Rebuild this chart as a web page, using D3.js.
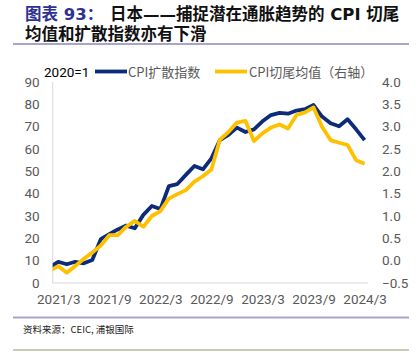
<!DOCTYPE html>
<html><head><meta charset="utf-8">
<script src="https://cdn.jsdelivr.net/npm/d3@7"></script>
<style>
body{margin:0;background:#fff;}
svg{display:block;}
</style></head>
<body>
<svg id="c" width="420" height="353"></svg>
<script>
const months = ["2021/2","2021/3","2021/4","2021/5","2021/6","2021/7","2021/8","2021/9","2021/10","2021/11","2021/12",
"2022/1","2022/2","2022/3","2022/4","2022/5","2022/6","2022/7","2022/8","2022/9","2022/10","2022/11","2022/12",
"2023/1","2023/2","2023/3","2023/4","2023/5","2023/6","2023/7","2023/8","2023/9","2023/10","2023/11","2023/12",
"2024/1","2024/2","2024/3"];
const diffusion = [7.1,9.5,8.4,9.5,8.8,10.3,19.6,21.9,24.0,25.7,24.5,30.5,34.5,33.1,43.4,44.3,48.4,52.4,50.9,55.8,
64.0,66.3,69.6,67.6,68.8,72.4,75.2,76.2,75.8,77.2,77.8,79.7,74.5,71.5,70.2,73.3,68.8,64.0];
const trimmedMean = [-0.23,-0.12,-0.27,-0.12,0.04,0.18,0.34,0.57,0.57,0.76,0.89,0.76,1.00,1.11,1.39,1.49,1.58,1.77,1.89,2.04,
2.71,2.88,3.09,3.13,2.68,2.85,2.98,3.05,2.96,3.26,3.32,3.43,3.00,2.70,2.64,2.59,2.25,2.17];
const xTickLabels = ["2021/3","2021/9","2022/3","2022/9","2023/3","2023/9","2024/3"];
const leftTicks = [0,10,20,30,40,50,60,70,80,90];
const rightTicks = [-0.5,0.0,0.5,1.0,1.5,2.0,2.5,3.0,3.5,4.0];

const svg = d3.select("#c");
const L = 52.7, R = 368, T = 82, B = 283;
const x = d3.scaleLinear().domain([0.35, 37.4]).range([L, R]);
const yL = d3.scaleLinear().domain([0, 90]).range([B, T]);
const yR = d3.scaleLinear().domain([-0.5, 4.0]).range([B, T]);
const CJK = "'Noto Sans CJK SC', sans-serif";
const TITLE = "'DejaVu Sans', 'Noto Sans CJK SC', sans-serif";
const NUM = "Roboto, 'Noto Sans', sans-serif";

// Title
const title = svg.append("text").attr("font-family", TITLE).attr("font-weight", "bold").attr("font-size", 16.5);
title.append("tspan").attr("x", 25).attr("y", 19.5).attr("fill", "#2E3192").text("图表 93：");
title.append("tspan").attr("x", 110).attr("y", 19.5).attr("fill", "#111").text("日本——捕捉潜在通胀趋势的 CPI 切尾");
title.append("tspan").attr("x", 25).attr("y", 39.5).attr("fill", "#111").text("均值和扩散指数亦有下滑");
svg.append("line").attr("x1", 13).attr("x2", 409).attr("y1", 44).attr("y2", 44)
  .attr("stroke", "#A8A4CC").attr("stroke-width", 2);

// Axes lines
svg.append("line").attr("x1", L).attr("x2", L).attr("y1", T).attr("y2", B)
  .attr("stroke", "#D9D9D9").attr("stroke-width", 1);
svg.append("line").attr("x1", L).attr("x2", R).attr("y1", B).attr("y2", B)
  .attr("stroke", "#D9D9D9").attr("stroke-width", 1);

// Left axis
const gl = svg.append("g").attr("transform", `translate(${L},0)`)
  .call(d3.axisLeft(yL).tickValues(leftTicks).tickSize(0).tickPadding(13).tickFormat(d3.format("d")));
gl.select(".domain").remove();
gl.selectAll("text").attr("font-family", NUM).attr("font-size", 13.5).attr("fill", "#595959");

// Right axis
const gr = svg.append("g").attr("transform", `translate(${R},0)`)
  .call(d3.axisRight(yR).tickValues(rightTicks).tickSize(0).tickPadding(14).tickFormat(d3.format(".1f")));
gr.select(".domain").remove();
gr.selectAll("text").attr("font-family", NUM).attr("font-size", 13.5).attr("fill", "#595959");

// X axis
const xTickIdx = xTickLabels.map(l => months.indexOf(l));
const gx = svg.append("g").attr("transform", `translate(0,${B})`)
  .call(d3.axisBottom(x).tickValues(xTickIdx).tickSize(0).tickPadding(11).tickFormat(i => months[i]));
gx.select(".domain").remove();
gx.selectAll("text").attr("font-family", NUM).attr("font-size", 13.5).attr("fill", "#595959");

// Clip
svg.append("clipPath").attr("id", "clip").append("rect")
  .attr("x", L).attr("y", 0).attr("width", R - L + 4).attr("height", 353);

const lineL = d3.line().x((d, i) => x(i)).y(d => yL(d));
const lineR = d3.line().x((d, i) => x(i)).y(d => yR(d));
const gp = svg.append("g").attr("clip-path", "url(#clip)");
gp.append("path").datum(diffusion).attr("d", lineL).attr("fill", "none")
  .attr("stroke", "#0C2C7A").attr("stroke-width", 3.8).attr("stroke-linejoin", "round");
gp.append("path").datum(trimmedMean).attr("d", lineR).attr("fill", "none")
  .attr("stroke", "#FFC000").attr("stroke-width", 3.8).attr("stroke-linejoin", "round");

// Legend
svg.append("text").attr("x", 44).attr("y", 76.5).attr("font-family", NUM)
  .attr("font-size", 13.5).attr("fill", "#000").text("2020=1");
svg.append("line").attr("x1", 95).attr("x2", 127).attr("y1", 71.5).attr("y2", 71.5)
  .attr("stroke", "#0C2C7A").attr("stroke-width", 3.8);
svg.append("text").attr("x", 128).attr("y", 76.5).attr("font-family", CJK)
  .attr("font-size", 13).attr("fill", "#595959").text("CPI扩散指数");
svg.append("line").attr("x1", 215).attr("x2", 247).attr("y1", 71.5).attr("y2", 71.5)
  .attr("stroke", "#FFC000").attr("stroke-width", 3.8);
svg.append("text").attr("x", 249).attr("y", 76.5).attr("font-family", CJK)
  .attr("font-size", 13).attr("fill", "#595959").text("CPI切尾均值（右轴）");

// Footer
svg.append("line").attr("x1", 13).attr("x2", 409).attr("y1", 317.5).attr("y2", 317.5)
  .attr("stroke", "#A8A4CC").attr("stroke-width", 2);
svg.append("text").attr("x", 23).attr("y", 333).attr("font-family", CJK)
  .attr("font-size", 9.5).attr("fill", "#222").text("资料来源：CEIC, 浦银国际");
svg.append("line").attr("x1", 13).attr("x2", 409).attr("y1", 350).attr("y2", 350)
  .attr("stroke", "#C9CBB8").attr("stroke-width", 2);
</script>
</body></html>
